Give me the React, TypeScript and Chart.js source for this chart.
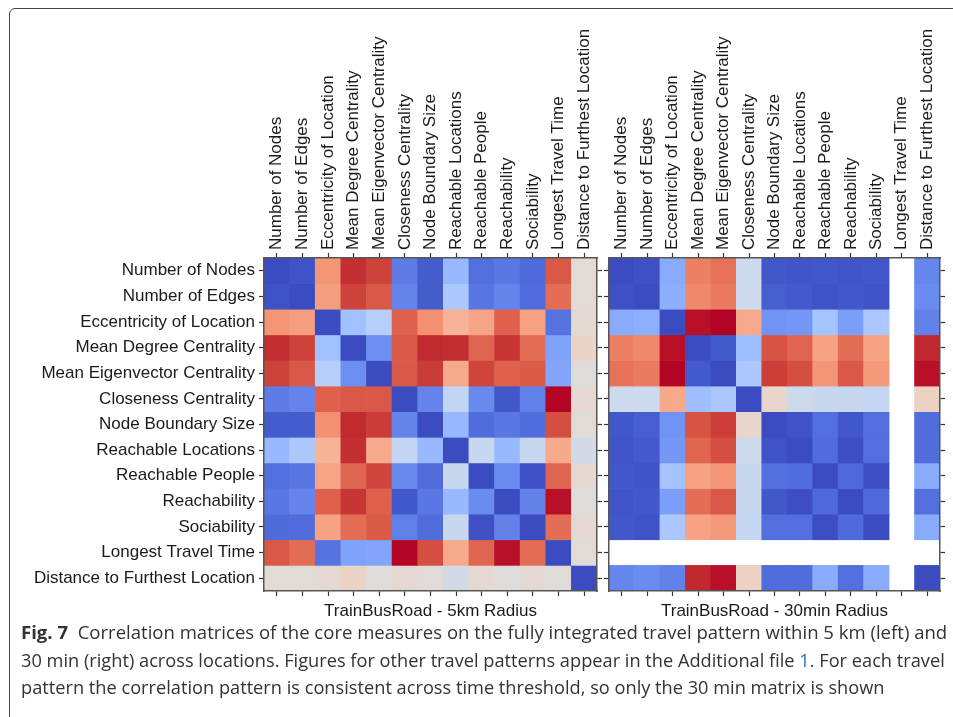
import React, { useEffect, useLayoutEffect, useRef } from 'react';
import { Chart, registerables } from 'chart.js';

Chart.register(...registerables);

const measures: string[] = [
  'Number of Nodes',
  'Number of Edges',
  'Eccentricity of Location',
  'Mean Degree Centrality',
  'Mean Eigenvector Centrality',
  'Closeness Centrality',
  'Node Boundary Size',
  'Reachable Locations',
  'Reachable People',
  'Reachability',
  'Sociability',
  'Longest Travel Time',
  'Distance to Furthest Location',
];

const titles: string[] = ['TrainBusRoad - 5km Radius', 'TrainBusRoad - 30min Radius'];

// colour-scale position of each cell (blue = +1, red = -1)
const corr5km: (number | null)[][] = [
  [1.0, 0.97, -0.52, -0.92, -0.86, 0.78, 0.93, 0.44, 0.84, 0.8, 0.86, -0.78, -0.04],
  [0.97, 1.0, -0.48, -0.86, -0.78, 0.74, 0.93, 0.32, 0.81, 0.74, 0.85, -0.7, -0.04],
  [-0.52, -0.48, 1.0, 0.38, 0.26, -0.75, -0.55, -0.36, -0.45, -0.75, -0.46, 0.82, -0.05],
  [-0.92, -0.86, 0.38, 1.0, 0.68, -0.78, -0.93, -0.92, -0.73, -0.9, -0.7, 0.58, -0.12],
  [-0.86, -0.78, 0.26, 0.68, 1.0, -0.78, -0.88, -0.42, -0.85, -0.75, -0.77, 0.56, -0.01],
  [0.78, 0.74, -0.75, -0.78, -0.78, 1.0, 0.74, 0.19, 0.71, 0.95, 0.76, -1.0, -0.07],
  [0.93, 0.93, -0.55, -0.93, -0.88, 0.74, 1.0, 0.44, 0.85, 0.8, 0.85, -0.82, -0.03],
  [0.44, 0.32, -0.36, -0.92, -0.42, 0.19, 0.44, 1.0, 0.15, 0.44, 0.15, -0.42, 0.08],
  [0.84, 0.81, -0.45, -0.73, -0.85, 0.71, 0.85, 0.15, 1.0, 0.7, 0.98, -0.73, -0.06],
  [0.8, 0.74, -0.75, -0.9, -0.75, 0.95, 0.8, 0.44, 0.7, 1.0, 0.75, -0.98, -0.01],
  [0.86, 0.85, -0.46, -0.7, -0.77, 0.76, 0.85, 0.15, 0.98, 0.75, 1.0, -0.7, -0.05],
  [-0.78, -0.7, 0.82, 0.58, 0.56, -1.0, -0.82, -0.42, -0.73, -0.98, -0.7, 1.0, -0.03],
  [-0.04, -0.04, -0.05, -0.12, -0.01, -0.07, -0.03, 0.08, -0.06, -0.01, -0.05, -0.03, 1.0],
];

const corr30min: (number | null)[][] = [
  [1.0, 0.98, 0.53, -0.62, -0.68, 0.12, 0.95, 0.96, 0.95, 0.96, 0.95, null, 0.73],
  [0.98, 1.0, 0.5, -0.58, -0.64, 0.12, 0.92, 0.94, 0.97, 0.95, 0.97, null, 0.7],
  [0.53, 0.5, 1.0, -0.98, -1.0, -0.42, 0.66, 0.64, 0.37, 0.6, 0.33, null, 0.75],
  [-0.62, -0.58, -0.98, 1.0, 0.94, 0.4, -0.8, -0.73, -0.46, -0.7, -0.46, null, -0.94],
  [-0.68, -0.64, -1.0, 0.94, 1.0, 0.33, -0.87, -0.82, -0.52, -0.78, -0.5, null, -0.98],
  [0.12, 0.12, -0.42, 0.4, 0.33, 1.0, -0.09, 0.12, 0.15, 0.15, 0.17, null, -0.14],
  [0.95, 0.92, 0.66, -0.8, -0.87, -0.09, 1.0, 0.97, 0.84, 0.95, 0.84, null, 0.85],
  [0.96, 0.94, 0.64, -0.73, -0.82, 0.12, 0.97, 1.0, 0.85, 0.99, 0.84, null, 0.85],
  [0.95, 0.97, 0.37, -0.46, -0.52, 0.15, 0.84, 0.85, 1.0, 0.87, 0.99, null, 0.53],
  [0.96, 0.95, 0.6, -0.7, -0.78, 0.15, 0.95, 0.99, 0.87, 1.0, 0.86, null, 0.84],
  [0.95, 0.97, 0.33, -0.46, -0.5, 0.17, 0.84, 0.84, 0.99, 0.86, 1.0, null, 0.53],
  [null, null, null, null, null, null, null, null, null, null, null, null, null],
  [0.73, 0.7, 0.75, -0.94, -0.98, -0.14, 0.85, 0.85, 0.53, 0.84, 0.53, null, 1.0],
];

const COOLWARM: number[][] = [
  [59, 76, 192], [68, 90, 204], [77, 104, 215], [87, 117, 225], [98, 130, 234], [108, 142, 241],
  [119, 154, 247], [130, 165, 251], [141, 176, 254], [152, 185, 255], [163, 194, 255], [174, 201, 253],
  [184, 208, 249], [194, 213, 244], [204, 217, 238], [213, 219, 230], [221, 221, 221], [229, 216, 209],
  [236, 211, 197], [241, 204, 184], [245, 196, 172], [247, 187, 160], [247, 177, 148], [247, 166, 135],
  [244, 154, 123], [241, 141, 111], [236, 127, 99], [229, 112, 88], [222, 96, 77], [213, 80, 66],
  [203, 62, 56], [192, 40, 47], [180, 4, 38],
];

function colorFor(r: number | null): string {
  if (r === null || r === undefined) return 'rgba(255,255,255,0)';
  const t = Math.min(1, Math.max(0, (1 - r) / 2)) * 32;
  const i = Math.min(31, Math.floor(t));
  const f = t - i;
  const a = COOLWARM[i];
  const b = COOLWARM[i + 1];
  const c = a.map((v, k) => Math.round(v + (b[k] - v) * f));
  return `rgb(${c[0]},${c[1]},${c[2]})`;
}

const FONT = "'Liberation Sans', Arial, Helvetica, sans-serif";
const TEXT_COLOR = '#1a1a1a';
const FONT_SIZE = 17;

interface HeatProps {
  matrix: (number | null)[][];
  title: string;
  showYLabels: boolean;
  left: number;
  width: number;
  height: number;
  leftW: number;
  rightW: number;
  topH: number;
  bottomH: number;
}

function Heatmap(props: HeatProps) {
  const ref = useRef<HTMLCanvasElement>(null);
  useEffect(() => {
    const { matrix, title, showYLabels, leftW, rightW, topH, bottomH } = props;
    const n = measures.length;
    const datasets = matrix.map((row, i) => ({
      data: row.map((v) => (v === null ? null : [i, i + 1])),
      backgroundColor: row.map((v) => colorFor(v)),
      borderWidth: 0,
      grouped: false,
      barPercentage: 1,
      categoryPercentage: 1,
    }));
    const grid = {
      display: true,
      drawOnChartArea: false,
      drawTicks: true,
      tickLength: 5,
      tickWidth: 1.2,
      tickColor: '#333',
      offset: false,
    };
    const border = { display: true, color: '#555', width: 1.5, z: 1 };
    const tickFont = { family: FONT, size: FONT_SIZE };
    const rowTicks = (scale: any) => {
      scale.ticks = measures.map((_, i) => ({ value: i + 0.5 }));
    };
    const chart = new Chart(ref.current as HTMLCanvasElement, {
      type: 'bar',
      data: { labels: measures, datasets: datasets as any },
      options: {
        animation: false,
        responsive: false,
        devicePixelRatio: 1,
        events: [],
        layout: { padding: 0, autoPadding: false },
        plugins: { legend: { display: false }, tooltip: { enabled: false }, title: { display: false } },
        scales: {
          x: {
            type: 'category',
            position: 'top',
            offset: true,
            grid,
            border,
            ticks: {
              display: true,
              font: tickFont,
              color: TEXT_COLOR,
              minRotation: 90,
              maxRotation: 90,
              autoSkip: false,
              padding: 3,
              labelOffset: FONT_SIZE * 1.2,
            },
            afterFit: (s: any) => {
              s.height = topH;
            },
          },
          x2: {
            type: 'category',
            position: 'bottom',
            offset: true,
            grid,
            border,
            ticks: { display: false, autoSkip: false },
            title: { display: true, text: title, font: tickFont, color: TEXT_COLOR, padding: 0 },
            afterFit: (s: any) => {
              s.height = bottomH;
            },
          },
          y: {
            type: 'linear',
            position: 'left',
            min: 0,
            max: n,
            reverse: true,
            grid,
            border,
            afterBuildTicks: rowTicks,
            ticks: {
              display: showYLabels,
              font: tickFont,
              color: TEXT_COLOR,
              padding: 4,
              autoSkip: false,
              callback: (_v: any, i: number) => measures[i],
            },
            afterFit: (s: any) => {
              s.width = leftW;
            },
          },
          y2: {
            type: 'linear',
            position: 'right',
            min: 0,
            max: n,
            reverse: true,
            grid,
            border,
            afterBuildTicks: rowTicks,
            ticks: { display: false, autoSkip: false },
            afterFit: (s: any) => {
              s.width = rightW;
            },
          },
        },
      } as any,
    });
    return () => chart.destroy();
  }, []);
  return (
    <canvas
      ref={ref}
      width={props.width}
      height={props.height}
      style={{ position: 'absolute', left: props.left, top: 0, width: props.width, height: props.height }}
    />
  );
}

const captionLines: { top: number; width: number }[] = [
  { top: 623, width: 926 },
  { top: 651, width: 924 },
  { top: 678, width: 863 },
];

export default function App() {
  const lineRefs = useRef<(HTMLDivElement | null)[]>([]);
  useLayoutEffect(() => {
    lineRefs.current.forEach((el, i) => {
      if (!el) return;
      const w = el.scrollWidth;
      if (w > 0) el.style.transform = `scaleX(${captionLines[i].width / w})`;
    });
  }, []);
  const capStyle = (i: number): React.CSSProperties => ({
    position: 'absolute',
    left: 21,
    top: captionLines[i].top,
    whiteSpace: 'nowrap',
    transformOrigin: '0 0',
    fontFamily: "'Open Sans', 'Noto Sans', sans-serif",
    fontSize: 18,
    lineHeight: '18px',
    color: '#333',
  });
  return (
    <div style={{ position: 'fixed', left: 0, top: 0, width: 953, height: 717, overflow: 'hidden', background: '#fff' }}>
      <div
        style={{
          position: 'absolute',
          left: 9,
          top: 8,
          width: 1000,
          height: 800,
          border: '1.5px solid #444',
          borderRadius: 6,
          boxSizing: 'border-box',
        }}
      />
      <Heatmap matrix={corr5km} title={titles[0]} showYLabels={true} left={0} width={605} height={622} leftW={264} rightW={8} topH={258} bottomH={31} />
      <Heatmap matrix={corr30min} title={titles[1]} showYLabels={false} left={598} width={350} height={622} leftW={9} rightW={8} topH={258} bottomH={31} />
      <div ref={(el) => { lineRefs.current[0] = el; }} style={capStyle(0)}>
        <span style={{ fontWeight: 700 }}>Fig. 7</span>&nbsp; Correlation matrices of the core measures on the fully integrated travel pattern within 5 km (left) and
      </div>
      <div ref={(el) => { lineRefs.current[1] = el; }} style={capStyle(1)}>
        30 min (right) across locations. Figures for other travel patterns appear in the Additional file <span style={{ color: '#2b6cc4' }}>1</span>. For each travel
      </div>
      <div ref={(el) => { lineRefs.current[2] = el; }} style={capStyle(2)}>
        pattern the correlation pattern is consistent across time threshold, so only the 30 min matrix is shown
      </div>
    </div>
  );
}
